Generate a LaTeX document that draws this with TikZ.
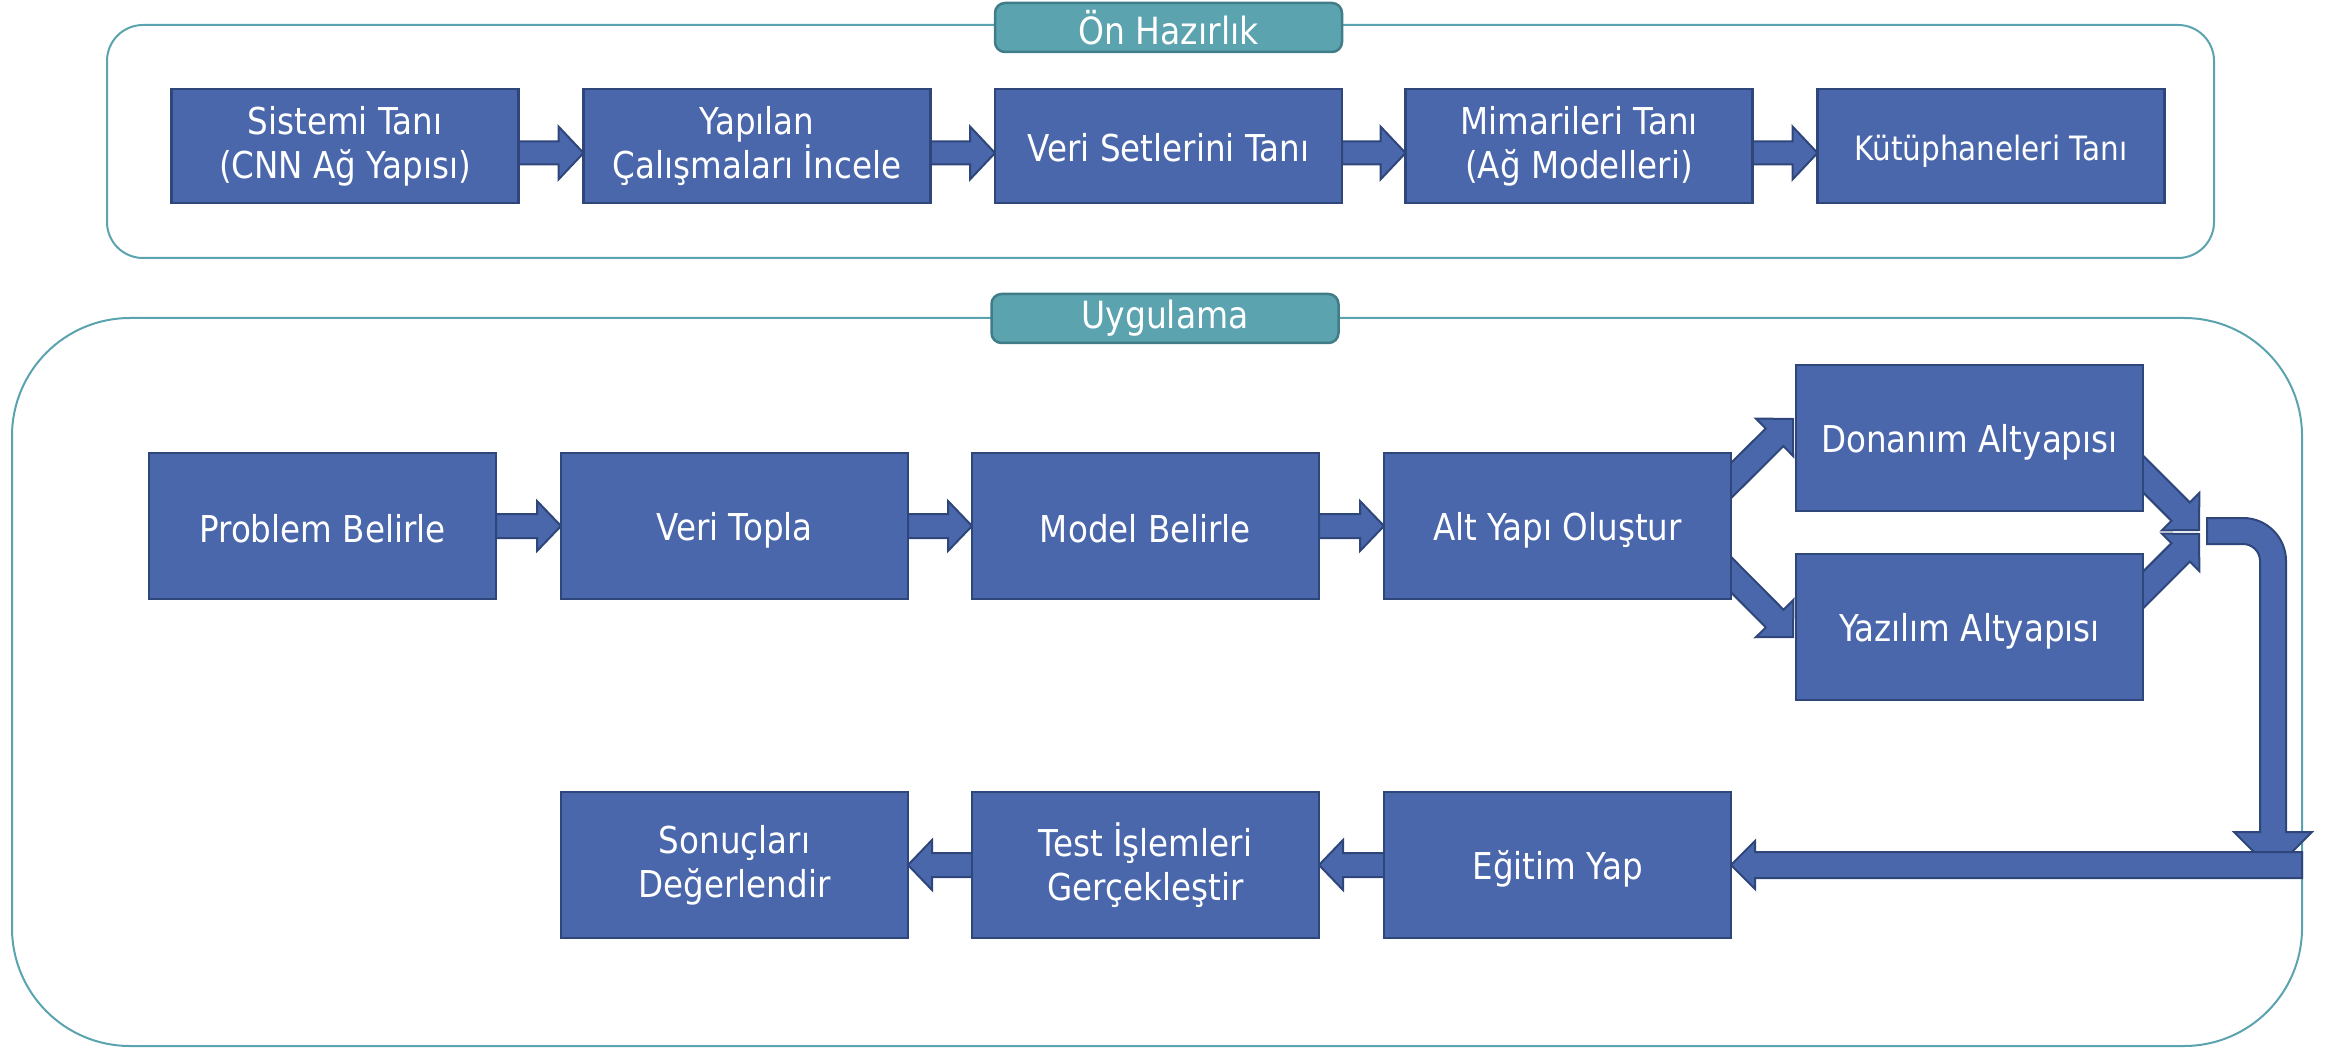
\documentclass[tikz,border=0pt]{standalone}
\usepackage{fontspec}
\setmainfont{DejaVu Sans}[FakeStretch=0.88]
\usetikzlibrary{calc}
\definecolor{boxfill}{RGB}{74,103,172}
\definecolor{boxline}{RGB}{47,70,122}
\definecolor{hdrfill}{RGB}{91,163,175}
\definecolor{hdrline}{RGB}{65,125,136}
\definecolor{frameline}{RGB}{91,163,175}
\pgfdeclarelayer{bg}
\pgfsetlayers{bg,main}
\newcommand{\boxstrut}{\rule[-4pt]{0pt}{40pt}}
% block arrow: #1 tail, #2 tip, #3 shaft half width, #4 head half width, #5 head length
\newcommand{\blockarrow}[5]{%
  \coordinate (bah) at ($(#2)!#5!(#1)$);
  \draw[barrow] ($(#1)!#3!90:(#2)$) -- ($(bah)!#3!90:(#2)$) -- ($(bah)!#4!90:(#2)$) -- (#2)
    -- ($(bah)!#4!-90:(#2)$) -- ($(bah)!#3!-90:(#2)$) -- ($(#1)!#3!-90:(#2)$) -- cycle;}
\tikzset{
  stepbox/.style={rectangle, draw=boxline, fill=boxfill, line width=2.5pt, text=white,
    minimum width=347pt, minimum height=146pt, inner sep=0pt, outer sep=0pt, align=center,
    font=\fontsize{37}{44}\selectfont,
    execute at begin node=\boxstrut, execute at end node=\boxstrut},
  hdr/.style={rectangle, rounded corners=10pt, draw=hdrline, fill=hdrfill, line width=2.5pt,
    text=white, minimum width=347pt, minimum height=49pt, inner sep=0pt, outer sep=0pt,
    font=\fontsize{37.5}{44}\selectfont},
  frame/.style={draw=frameline, line width=2pt},
  barrow/.style={draw=boxline, fill=boxfill, line width=2pt, line join=miter},
}
\begin{document}
\begin{tikzpicture}[x=1pt,y=-1pt]
\useasboundingbox (0,0) rectangle (2336,1048);
\begin{pgfonlayer}{bg}
  \draw[frame, rounded corners=36pt] (107,25) rectangle (2214,258);
  \draw[frame, rounded corners=118pt] (12,318) rectangle (2302,1046);
\end{pgfonlayer}
% headers
\node[hdr] (h1) at (1168.5,27.5) {Ön Hazırlık};
\node[hdr] (h2) at (1165,318.5) {Uygulama};
% top row
\node[stepbox, minimum height=114pt] (s1) at (345,146) {Sistemi Tanı\\(CNN Ağ Yapısı)};
\node[stepbox, minimum height=114pt] (s2) at (757,146) {Yapılan\\Çalışmaları İncele};
\node[stepbox, minimum height=114pt] (s3) at (1168.5,146) {Veri Setlerini Tanı};
\node[stepbox, minimum height=114pt] (s4) at (1579,146) {Mimarileri Tanı\\(Ağ Modelleri)};
\node[stepbox, minimum height=114pt, font=\fontsize{33.5}{40}\selectfont] (s5) at (1991,146) {Kütüphaneleri Tanı};
% application row 1
\node[stepbox] (p1) at (322.5,526) {Problem Belirle};
\node[stepbox] (p2) at (734.5,526) {Veri Topla};
\node[stepbox] (p3) at (1145.5,526) {Model Belirle};
\node[stepbox] (p4) at (1557.5,526) {Alt Yapı Oluştur};
\node[stepbox] (d1) at (1969.5,438) {Donanım Altyapısı};
\node[stepbox] (d2) at (1969.5,627) {Yazılım Altyapısı};
% application row 3
\node[stepbox] (r1) at (734.5,865) {Sonuçları\\Değerlendir};
\node[stepbox] (r2) at (1145.5,865) {Test İşlemleri\\Gerçekleştir};
\node[stepbox] (r3) at (1557.5,865) {Eğitim Yap};
% connector end points
\coordinate (t1a) at ($(s1.east)+(0,7)$);  \coordinate (t1b) at ($(s2.west)+(0,7)$);
\coordinate (t2a) at ($(s2.east)+(0,7)$);  \coordinate (t2b) at ($(s3.west)+(0,7)$);
\coordinate (t3a) at ($(s3.east)+(0,7)$);  \coordinate (t3b) at ($(s4.west)+(0,7)$);
\coordinate (t4a) at ($(s4.east)+(0,7)$);  \coordinate (t4b) at ($(s5.west)+(0,7)$);
\coordinate (u0) at ($(p4.east)+(-20,-25.5)$); \coordinate (u1) at ($(d1.west)+(-3,-19)$);
\coordinate (v0) at ($(p4.east)+(-20,28.5)$);  \coordinate (v1) at ($(d2.west)+(-3,10)$);
\coordinate (m0) at ($(d1.east)+(-20,16)$);    \coordinate (mergeU) at (2199,530);
\coordinate (n0) at ($(d2.east)+(-20,-17)$);   \coordinate (mergeD) at (2199,534);
\coordinate (bend) at (2207,531);
\coordinate (ret) at (2302,865);
\begin{pgfonlayer}{bg}
  \blockarrow{t1a}{t1b}{11.5pt}{26.5pt}{25pt}
  \blockarrow{t2a}{t2b}{11.5pt}{26.5pt}{25pt}
  \blockarrow{t3a}{t3b}{11.5pt}{26.5pt}{25pt}
  \blockarrow{t4a}{t4b}{11.5pt}{26.5pt}{25pt}
  \blockarrow{p1.east}{p2.west}{12pt}{25pt}{24pt}
  \blockarrow{p2.east}{p3.west}{12pt}{25pt}{24pt}
  \blockarrow{p3.east}{p4.west}{12pt}{25pt}{24pt}
  \blockarrow{u0}{u1}{12.5pt}{26.5pt}{26pt}
  \blockarrow{v0}{v1}{12.5pt}{26.5pt}{26pt}
  \blockarrow{m0}{mergeU}{13pt}{26.5pt}{26pt}
  \blockarrow{n0}{mergeD}{13pt}{26.5pt}{26pt}
  \begin{scope}[shift={(bend)}]
    \draw[barrow] (0,-13) -- (36,-13) .. controls (59.7,-13) and (79,6.3) .. (79,30)
      -- (79,301) -- (105,301) -- (66,340) -- (27,301) -- (53,301) -- (53,30)
      .. controls (53,20.6) and (45.4,13) .. (36,13) -- (0,13) -- cycle;
  \end{scope}
  \blockarrow{ret}{r3.east}{13pt}{24pt}{24pt}
  \blockarrow{r3.west}{r2.east}{12pt}{25pt}{24pt}
  \blockarrow{r2.west}{r1.east}{12pt}{25pt}{24pt}
\end{pgfonlayer}
\end{tikzpicture}
\end{document}
